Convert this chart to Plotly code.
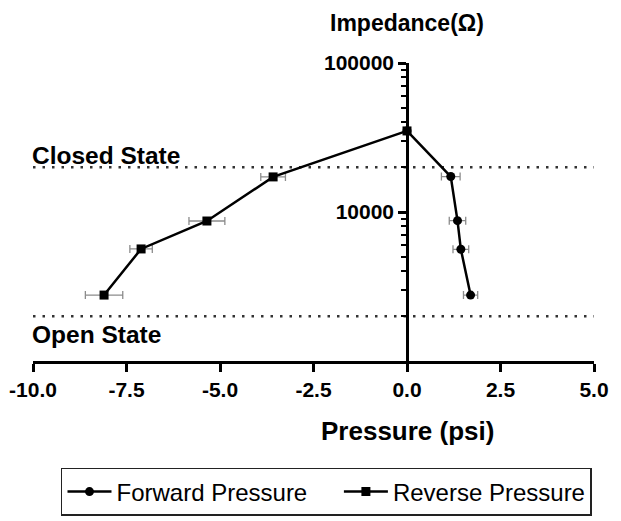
import plotly.graph_objects as go

# ---- data ----
forward_x = [0.0, 1.17, 1.35, 1.44, 1.70]
forward_y = [35000, 17300, 8750, 5620, 2770]
forward_err = [0.0, 0.25, 0.22, 0.21, 0.19]

reverse_x = [0.0, -3.58, -5.35, -7.11, -8.10]
reverse_y = [35000, 17200, 8700, 5650, 2770]
reverse_err = [0.0, 0.33, 0.48, 0.30, 0.50]

closed_state = 20000
open_state = 2000
state_x = [-10, 5]

x_ticks = [-10.0, -7.5, -5.0, -2.5, 0.0, 2.5, 5.0]
x_ticktext = ["-10.0", "-7.5", "-5.0", "-2.5", "0.0", "2.5", "5.0"]
y_ticks = [10000, 100000]
y_ticktext = ["10000", "100000"]
y_minor = [2000, 3000, 4000, 5000, 6000, 7000, 8000, 9000,
           20000, 30000, 40000, 50000, 60000, 70000, 80000, 90000]

FONT = "Liberation Sans, Arial, Helvetica, sans-serif"

fig = go.Figure()

# threshold lines
for val in (closed_state, open_state):
    fig.add_trace(go.Scatter(
        x=state_x, y=[val, val], mode="lines",
        line=dict(color="#333333", width=2.5, dash="2.5px,7px"),
        showlegend=False, hoverinfo="skip"))

fig.add_trace(go.Scatter(
    x=forward_x, y=forward_y, mode="lines+markers",
    name="Forward Pressure" + "\u00a0" * 4,
    line=dict(color="black", width=2.5),
    marker=dict(symbol="circle", size=9, color="black"),
    error_x=dict(type="data", array=forward_err, color="#8c8c8c", thickness=1.3, width=4)))

fig.add_trace(go.Scatter(
    x=reverse_x, y=reverse_y, mode="lines+markers", name="Reverse Pressure",
    line=dict(color="black", width=2.5),
    marker=dict(symbol="square", size=9, color="black"),
    error_x=dict(type="data", array=reverse_err, color="#8c8c8c", thickness=1.3, width=4)))

# page body has an 8px margin, so the figure is 8px smaller and shifted
fig.update_layout(
    width=613, height=513,
    margin=dict(l=25, r=27, t=55, b=160, autoexpand=False),
    plot_bgcolor="white", paper_bgcolor="white",
    font=dict(family=FONT, color="black"),
    showlegend=True,
    legend=dict(orientation="h", x=0.0499, xanchor="left", y=-0.359, yanchor="top",
                bordercolor="#222222", borderwidth=1.5,
                font=dict(family=FONT, size=24, color="black"),
                itemwidth=44),
    xaxis=dict(range=[-10, 5], tickvals=x_ticks, ticktext=x_ticktext,
               showline=True, linecolor="black", linewidth=2.5,
               ticks="outside", ticklen=8, tickwidth=2.5, tickcolor="black",
               showgrid=False, zeroline=False, automargin=False,
               tickfont=dict(family=FONT, size=21, weight="bold", color="black")),
    yaxis=dict(type="log", range=[3, 5], anchor="free", position=10 / 15,
               tickvals=y_ticks, ticktext=y_ticktext,
               showline=True, linecolor="black", linewidth=2.5,
               ticks="outside", ticklen=8, tickwidth=2.5, tickcolor="black",
               minor=dict(tickvals=y_minor, ticks="outside", ticklen=5,
                          tickwidth=2, tickcolor="black", showgrid=False),
               showgrid=False, zeroline=False, automargin=False,
               tickfont=dict(family=FONT, size=21, weight="bold", color="black")),
    annotations=[
        dict(text="Impedance(Ω)", x=0, xref="x", y=1.134, yref="paper",
             xanchor="center", yanchor="middle", showarrow=False,
             font=dict(family=FONT, size=23, weight="bold", color="black")),
        dict(text="Pressure (psi)", x=0, xref="x", y=-0.235, yref="paper",
             xanchor="center", yanchor="middle", showarrow=False,
             font=dict(family=FONT, size=26, weight="bold", color="black")),
        dict(text="Closed State", x=-10, xref="x", y=0.691, yref="paper",
             xanchor="left", yanchor="middle", showarrow=False, xshift=-3,
             font=dict(family=FONT, size=24.5, weight="bold", color="black")),
        dict(text="Open State", x=-10, xref="x", y=0.0906, yref="paper",
             xanchor="left", yanchor="middle", showarrow=False, xshift=-3,
             font=dict(family=FONT, size=24.5, weight="bold", color="black")),
    ],
)

fig.write_html("out.html")
